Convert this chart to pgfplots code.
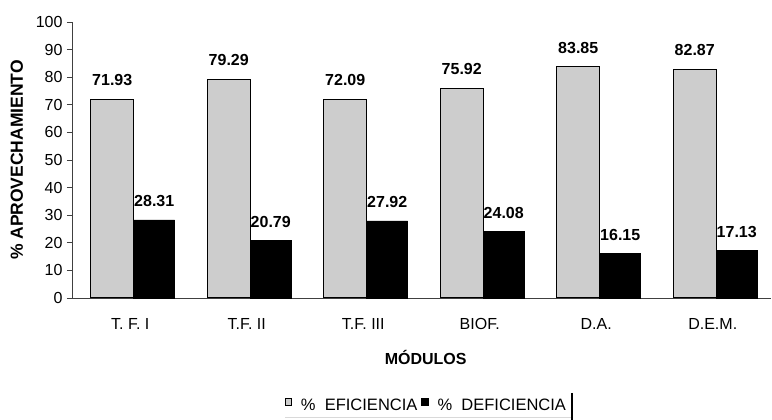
\documentclass[border=0pt]{standalone}
\usepackage{fontspec}
\setmainfont{Liberation Sans}
\usepackage{pgfplots}
\pgfplotsset{compat=1.18}

\definecolor{efic}{RGB}{205,205,205}

\begin{document}
\begin{tikzpicture}
\begin{axis}[
  scale only axis,
  width=699pt, height=276pt,
  xmin=-0.5, xmax=5.5,
  ymin=0, ymax=100,
  clip=false,
  axis x line=bottom, axis y line=left,
  axis line style={-, black!75, line width=0.7pt},
  ytick={0,10,...,100},
  ytick align=outside, major tick length=5pt,
  xtick={0,1,2,3,4,5},
  xticklabels={T. F. I, T.F. II, T.F. III, BIOF., D.A., D.E.M.},
  x tick style={draw=none},
  minor xtick={0.5,1.5,2.5,3.5,4.5},
  minor x tick style={black!75, line width=0.7pt},
  minor tick length=4pt,
  xtick align=outside,
  tick style={black!75, line width=0.7pt},
  /pgf/number format/assume math mode=true,
  tick label style={font=\fontsize{16}{19}\selectfont},
  xticklabel style={yshift=-12pt},
  yticklabel style={xshift=-1pt},
  xlabel={\textbf{MÓDULOS}},
  xlabel style={font=\fontsize{16}{19}\selectfont, at={(axis description cs:0.506,-0.214)}, anchor=center},
  ylabel={\textbf{\% APROVECHAMIENTO}},
  ylabel style={font=\fontsize{17.5}{21}\selectfont, at={(axis description cs:-0.079,0.5)}, anchor=center},
  bar width=43pt,
  nodes near coords,
  nodes near coords style={font=\bfseries\fontsize{16}{19}\selectfont, yshift=9.5pt,
    /pgf/number format/fixed, /pgf/number format/fixed zerofill, /pgf/number format/precision=2},
  legend columns=2,
  legend style={draw=none, fill=none, at={(axis description cs:0.507,-0.388)}, anchor=center,
    font=\fontsize{16.5}{19}\selectfont,
    /tikz/every even column/.append style={column sep=2pt},
    /tikz/every odd column/.append style={column sep=7pt}},
  legend image code/.code={\draw[#1, draw=black, line width=0.7pt] (0pt,0pt) rectangle (6.5pt,6.5pt);},
]
\addplot[ybar, bar shift=-18pt, fill=efic, draw=black, line width=1pt,
  nodes near coords style={xshift=-18pt}]
  coordinates {(0,71.93) (1,79.29) (2,72.09) (3,75.92) (4,83.85) (5,82.87)};
\addlegendentry{\% \ EFICIENCIA}
\addplot[ybar, bar shift=24pt, bar width=41pt, fill=black, draw=black, line width=0.5pt,
  nodes near coords style={xshift=24pt}]
  coordinates {(0,28.31) (1,20.79) (2,27.92) (3,24.08) (4,16.15) (5,17.13)};
\addlegendentry{\% \ DEFICIENCIA}
% edge of the legend frame
\draw[black!15, line width=0.6pt] (axis description cs:0.305,-0.432) -- (axis description cs:0.715,-0.432);
\draw[black, line width=2.5pt] (axis description cs:0.7153,-0.344) -- (axis description cs:0.7153,-0.442);
\end{axis}
\pgfresetboundingbox
\path (-72pt,-122pt) rectangle (700pt,298pt);
\end{tikzpicture}
\end{document}
